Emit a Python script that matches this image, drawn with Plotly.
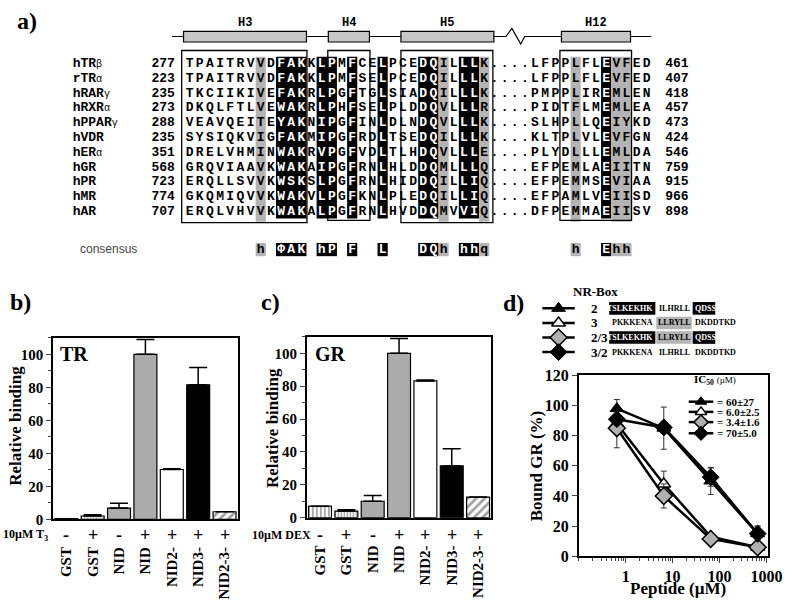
import plotly.graph_objects as go

W, H = 800, 609

# ===================== DATA =====================
# ---- panel a: alignment helix 3 .. helix 12 ----
receptors = ["hTRβ", "rTRα", "hRARγ", "hRXRα", "hPPARγ", "hVDR", "hERα",
             "hGR", "hPR", "hMR", "hAR"]
first_residue = [277, 223, 235, 273, 288, 235, 351, 568, 723, 774, 707]
last_residue = [461, 407, 418, 457, 473, 424, 546, 759, 915, 966, 898]
aligned_seqs = [
    "TPAITRVVDFAKKLPMFCELPCEDQILLLK....LFPPLFLEVFED",
    "TPAITRVVDFAKKLPMFSELPCEDQILLLK....LFPPLFLEVFED",
    "TKCIIKIVEFAKRLPGFTGLSIADQILLLK....PMPPLIREMLEN",
    "DKQLFTLVEWAKRLPHFSELPLDDQVLLLR....PIDTFLMEMLEA",
    "VEAVQEITEYAKNIPGFINLDLNDQVLLLK....SLHPLLQEIYKD",
    "SYSIQKVIGFAKMIPGFRDLTSEDQILLLK....KLTPLVLEVFGN",
    "DRELVHMINWAKRVPGFVDLTLHDQVLLLE....PLYDLLLEMLDA",
    "GRQVIAAVKWAKAIPGFRNLHLDDQMLLLQ....EFPEMLAEIITN",
    "ERQLLSVVKWSKSLPGFRNLHIDDQILLIQ....EFPEMMSEVIAA",
    "GKQMIQVVKWAKVLPGFKNLPLEDQILLIQ....EFPAMLVEIISD",
    "ERQLVHVVKWAKALPGFRNLHVDDQMVVIQ....DFPEMMAEIISV",
]
consensus_seq = "       h ΦAK hP F  L   DQh hhq        h  Ehh  "
identical_cols = [9, 10, 11, 13, 14, 16, 19, 23, 24, 27, 28, 41]
similar_cols = [7, 25, 29, 38, 42, 43]
helices = ["H3", "H4", "H5", "H12"]
helix_from_col = [-0.6, 13.65, 20.8, 36.6]
helix_to_col = [11.5, 17.7, 29.95, 43.4]
box_from_col = [-0.78, 13.6, 20.8, 36.45]
box_to_col = [11.55, 17.75, 29.85, 43.5]

# ---- panels b / c ----
constructs = ["GST", "GST", "NID", "NID", "NID2-", "NID3-", "NID2-3-"]
ligand = ["-", "+", "-", "+", "+", "+", "+"]
tr_binding = [0.4, 2.0, 6.8, 100.0, 30.2, 81.5, 4.6]
tr_error = [None, 0.8, 3.0, 9.0, 0.5, 10.5, None]
gr_binding = [7.0, 4.0, 10.0, 100.0, 83.2, 31.5, 12.5]
gr_error = [None, 0.8, 3.5, 9.0, 0.5, 10.5, None]

# ---- panel d ----
peptide_uM = [0.65, 6.5, 65, 650]
nr_boxes = ["2", "3", "2/3", "3/2"]
bound_gr = [
    [98, 85, 50, 15],
    [88, 48, 13, 6],
    [85, 40, 11.5, 6],
    [91, 85.5, 52.5, 15],
]
bound_err = [
    [6, 14, 9, 5],
    [4, 8.5, 2, 2],
    [13, 8, 2, 2],
    [3, 4, 6, 5],
]
ic50_text = ["= 60±27", "= 6.0±2.5", "= 3.4±1.6", "= 70±5.0"]
pep_left = ["TSLKEKHK", "PKKKENA", "TSLKEKHK", "PKKKENA"]
pep_core = ["ILHRLL", "LLRYLL", "LLRYLL", "ILHRLL"]
pep_right = ["QDSS", "DKDDTKD", "QDSS", "DKDDTKD"]

# ===================== FIGURE =====================
fig = go.Figure()
shapes, annos = [], []
SERIF = "Liberation Serif"
MONO = "Liberation Mono"


def cf(size, family=SERIF, bold=True, color="black"):
    return dict(family=family, size=size, color=color, weight="bold" if bold else "normal")


def canvas_text(x, y, text, size, family=SERIF, bold=True, xanchor="center", color="black", angle=0):
    annos.append(dict(x=x, y=y, xref="x4", yref="y4", text=text, showarrow=False,
                      xanchor=xanchor, yanchor="middle", textangle=angle, borderpad=0,
                      font=cf(size, family, bold, color)))


def rect(x0, y0, x1, y1, fill="rgba(0,0,0,0)", lw=0, lc="black"):
    shapes.append(dict(type="rect", xref="x4", yref="y4", x0=x0, x1=x1, y0=y0, y1=y1,
                       fillcolor=fill, line=dict(width=lw, color=lc), layer="below"))


pitch = 10.34


def col_x(c):
    return 193 + pitch * c


def row_y(r):
    return 57.5 + 15.2 * r


def runs(cols):
    cols = sorted(cols)
    out, start, prev = [], cols[0], cols[0]
    for c in cols[1:]:
        if c == prev + 1:
            prev = c
            continue
        out.append((start, prev))
        start = prev = c
    out.append((start, prev))
    return out


n_rows = len(aligned_seqs)
top_hl, bot_hl = row_y(0) - 7.3, row_y(n_rows - 1) + 7.0
for a, b in runs(identical_cols):
    rect(col_x(a) - pitch / 2, top_hl, col_x(b) + pitch / 2, bot_hl, fill="black")
    rect(col_x(a) - pitch / 2, 241.7, col_x(b) + pitch / 2, 255.3, fill="black")
for a, b in runs(similar_cols):
    rect(col_x(a) - pitch / 2, top_hl, col_x(b) + pitch / 2, bot_hl + 3.5, fill="#b4b4b4")
    rect(col_x(a) - pitch / 2, 241.7, col_x(b) + pitch / 2, 255.3, fill="#b4b4b4")

# alignment boxes
box_bottom = [220.7, 218.5, 220.7, 218.5]
for i in range(len(helices)):
    rect(col_x(box_from_col[i]), 43.7, col_x(box_to_col[i]), box_bottom[i], lw=1.3)

# helix header
shapes.append(dict(type="path", xref="x4", yref="y4",
                   path="M 175,29.3 L 515,29.3 L 521,21 L 530,37 L 534,29.3 L 663,29.3",
                   line=dict(color="black", width=1.2), layer="below"))
for i, hname in enumerate(helices):
    x0, x1 = col_x(helix_from_col[i]), col_x(helix_to_col[i])
    shapes.append(dict(type="rect", xref="x4", yref="y4", x0=x0, x1=x1, y0=24, y1=35,
                       fillcolor="#c6c6c6", line=dict(color="black", width=1.2), layer="above"))
    canvas_text((x0 + x1) / 2, 15, hname, 12, MONO)

# sequence letters
black_set = set(identical_cols)
sx, sy, st, sc = [], [], [], []
for r, s in enumerate(aligned_seqs):
    for c, ch in enumerate(s):
        if ch == " ":
            continue
        sx.append(col_x(c)); sy.append(row_y(r)); st.append(ch)
        sc.append("white" if c in black_set else "black")
for c, ch in enumerate(consensus_seq):
    if ch == " ":
        continue
    sx.append(col_x(c)); sy.append(248.5); st.append(ch)
    sc.append("white" if c in black_set else "black")
fig.add_trace(go.Scatter(x=sx, y=sy, text=st, mode="text", textposition="middle center",
                         textfont=dict(family=MONO, size=13, color=sc, weight="bold"),
                         xaxis="x4", yaxis="y4", hoverinfo="skip", showlegend=False))

# receptor names and residue numbers
greek = set("αβγ")
name_html = []
for name in receptors:
    if name[-1] in greek:
        name_html.append(name[:-1] + "<span style='font-size:10px;font-weight:normal'>"
                         + name[-1] + "</span>")
    else:
        name_html.append(name)
ry = [row_y(r) for r in range(n_rows)]
fig.add_trace(go.Scatter(x=[74] * n_rows, y=ry, text=name_html, mode="text",
                         textposition="middle right",
                         textfont=dict(family=MONO, size=13, color="black", weight="bold"),
                         xaxis="x4", yaxis="y4", hoverinfo="skip", showlegend=False))
fig.add_trace(go.Scatter(x=[178] * n_rows, y=ry, text=[str(v) for v in first_residue], mode="text",
                         textposition="middle left",
                         textfont=dict(family=MONO, size=13, color="black", weight="bold"),
                         xaxis="x4", yaxis="y4", hoverinfo="skip", showlegend=False))
fig.add_trace(go.Scatter(x=[677] * n_rows, y=ry, text=[str(v) for v in last_residue], mode="text",
                         textposition="middle right",
                         textfont=dict(family=MONO, size=13, color="black", weight="bold"),
                         xaxis="x4", yaxis="y4", hoverinfo="skip", showlegend=False))
canvas_text(80, 248, "consensus", 12, "Liberation Sans", bold=False, xanchor="left", color="#444444")

# panel letters
for lab, (px, py) in zip(["a)", "b)", "c)", "d)"], [(27, 13), (21, 302), (275, 302), (523, 303)]):
    canvas_text(px, py, lab, 24)

# ===================== PANELS b / c =====================
n = len(constructs)
xpos = list(range(n))
fills = ["white", "white", "#ababab", "#ababab", "white", "black", "white"]
pat_b = ["|", ".", "", "", "", "", "/"]
pat_c = ["|", "|", "", "", "", "", "/"]
pat_size = [4, 3, 8, 8, 8, 8, 6]


def bar_panel(xa, ya, vals, errs, pats):
    fig.add_trace(go.Bar(
        x=xpos, y=vals, xaxis=xa, yaxis=ya, width=0.87,
        marker=dict(color=fills, line=dict(color="black", width=1.2),
                    pattern=dict(shape=pats, fgcolor="black", bgcolor="white",
                                 size=pat_size, solidity=0.45)),
        error_y=dict(type="data", array=errs, arrayminus=[0] * n, symmetric=False,
                     color="black", thickness=1.5, width=9),
        showlegend=False, hoverinfo="skip"))


bar_panel("x", "y", tr_binding, tr_error, pat_b)
bar_panel("x2", "y2", gr_binding, gr_error, pat_c)

for xr, lab, lx in [("x", "TR", 75), ("x2", "GR", 336)]:
    canvas_text(lx, 356, lab, 20)
    for i in range(n):
        annos.append(dict(x=xpos[i], y=1 - 542 / H, xref=xr, yref="paper", text=ligand[i],
                          showarrow=False, xanchor="center", yanchor="middle", font=cf(18)))
canvas_text(26, 542, "10µM T<sub>3</sub>", 12)
canvas_text(286, 542, "10µM DEX", 12)
canvas_text(15, 430, "Relative binding", 17, angle=-90)
canvas_text(278, 432, "Relative binding", 17, angle=-90)

# ===================== PANEL d =====================
marker_styles = [
    dict(symbol="triangle-up", color="black", size=12, line=dict(color="black", width=1)),
    dict(symbol="triangle-up", color="white", size=12, line=dict(color="black", width=1.5)),
    dict(symbol="diamond", color="#b0b0b0", size=13, line=dict(color="black", width=1.5)),
    dict(symbol="diamond", color="black", size=13, line=dict(color="black", width=1)),
]
for i in [1, 2, 0, 3]:
    fig.add_trace(go.Scatter(
        x=peptide_uM, y=bound_gr[i], xaxis="x3", yaxis="y3", mode="lines+markers",
        line=dict(color="black", width=2.5), marker=marker_styles[i],
        error_y=dict(type="data", array=bound_err[i], color="#333333", thickness=1, width=3),
        showlegend=False, hoverinfo="skip"))

# inner IC50 legend (drawn by hand to match spacing)
leg_y = [405, 415.5, 426, 437.5]
for i in range(4):
    ms = dict(marker_styles[i]); ms["size"] = ms["size"] - 2; ms["opacity"] = [0, 1, 0]
    fig.add_trace(go.Scatter(x=[701, 713.5, 726], y=[leg_y[i]] * 3, xaxis="x4", yaxis="y4",
                             mode="lines+markers", line=dict(color="black", width=2.5),
                             marker=ms, showlegend=False, hoverinfo="skip"))
    canvas_text(729, leg_y[i], ic50_text[i], 11, xanchor="left")
canvas_text(705, 383, "IC<sub>50</sub> <span style='font-size:9px;font-weight:normal'>(µM)</span>", 11,
            xanchor="left")

# NR-box key
key_y = [309, 324, 339, 354]
canvas_text(606, 292, "NR-Box", 13)
for i in range(4):
    ms = dict(marker_styles[i]); ms["opacity"] = [0, 1, 0]
    fig.add_trace(go.Scatter(x=[552, 568.5, 585], y=[key_y[i]] * 3, xaxis="x4", yaxis="y4",
                             mode="lines+markers", line=dict(color="black", width=2.5),
                             marker=ms, showlegend=False, hoverinfo="skip"))
    canvas_text(600, key_y[i], nr_boxes[i], 13, xanchor="left")
    ky = key_y[i]
    left_black = pep_left[i] == pep_left[0]
    core_gray = pep_core[i] == pep_core[1]
    right_black = pep_right[i] == pep_right[0]
    if left_black:
        rect(620, ky - 6.5, 667, ky + 6.5, fill="black")
    if core_gray:
        rect(668, ky - 6.5, 704, ky + 6.5, fill="#b4b4b4")
    if right_black:
        rect(705, ky - 6.5, 728, ky + 6.5, fill="black")
    canvas_text(666, ky, pep_left[i], 8, xanchor="right", color="white" if left_black else "black")
    canvas_text(686, ky, pep_core[i], 8)
    canvas_text(706, ky, pep_right[i], 8, xanchor="left", color="white" if right_black else "black")

canvas_text(546, 471, "Bound GR (%)", 17, angle=-90)
canvas_text(690, 597, "Peptide (µM)", 17)

# ===================== LAYOUT =====================
line_ax = dict(showline=True, linecolor="black", linewidth=1.5, mirror=True,
               showgrid=False, zeroline=False)
cat_x = dict(line_ax, range=[-0.5, n - 0.5], tickvals=xpos, ticktext=constructs, tickangle=-90,
             ticks="", tickfont=cf(15), ticklabelstandoff=20, fixedrange=True)
bind_y = dict(line_ax, range=[0, 110], tickvals=[0, 20, 40, 60, 80, 100], ticks="outside",
              ticklen=5, tickwidth=1.2, minor=dict(dtick=10, ticks="outside", ticklen=3),
              tickfont=cf(15), fixedrange=True)

fig.update_layout(
    width=W, height=H, autosize=False,
    margin=dict(l=0, r=0, t=0, b=0),
    paper_bgcolor="white", plot_bgcolor="rgba(0,0,0,0)",
    hovermode=False, dragmode=False,
    bargap=0.13,
    xaxis=dict(cat_x, domain=[54 / W, 242 / W], anchor="y"),
    yaxis=dict(bind_y, domain=[(H - 526) / H, (H - 339.3) / H], anchor="x"),
    xaxis2=dict(cat_x, domain=[312.3 / W, 500 / W], anchor="y2"),
    yaxis2=dict(bind_y, domain=[(H - 524.3) / H, (H - 338.3) / H], anchor="x2"),
    xaxis3=dict(line_ax, type="log", range=[-1, 3.04], domain=[589 / W, 782 / W], anchor="y3",
                tickvals=[1, 10, 100, 1000], ticks="outside", ticklen=5,
                minor=dict(ticks="outside", ticklen=3, dtick="D1"),
                tickfont=cf(16), fixedrange=True),
    yaxis3=dict(line_ax, range=[0, 120], dtick=20, domain=[(H - 564) / H, (H - 378) / H],
                anchor="x3", ticks="outside", ticklen=5, tickfont=cf(16), fixedrange=True),
    xaxis4=dict(domain=[0, 1], range=[0, W], visible=False, fixedrange=True, anchor="y4"),
    yaxis4=dict(domain=[0, 1], range=[H, 0], visible=False, fixedrange=True, anchor="x4"),
    shapes=shapes, annotations=annos,
)

fig.write_html("out.html", config={"displayModeBar": False},
               post_script="document.body.style.margin='0px';")
